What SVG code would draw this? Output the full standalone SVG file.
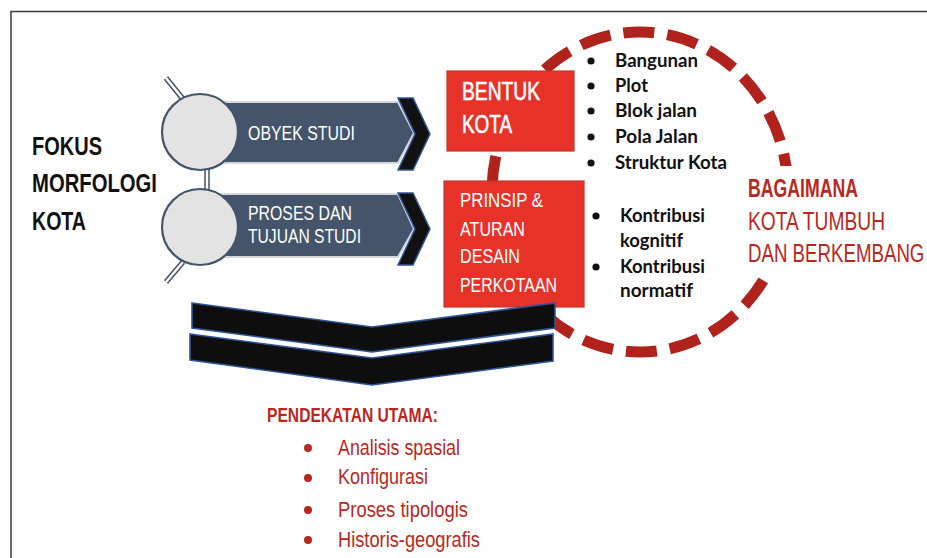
<svg xmlns="http://www.w3.org/2000/svg" width="927" height="558" viewBox="0 0 927 558">
<style>
.frame{fill:none;stroke:#3a3a3a;stroke-width:1.5}
.ring{fill:none;stroke:#b0231c;stroke-width:11;stroke-dasharray:31 13;stroke-dashoffset:-5}
.bar{fill:#44546a;stroke:#d4d6da;stroke-width:2}
.tip{fill:#111;stroke:#2f5597;stroke-width:1.5;stroke-linejoin:miter}
.ball{fill:#e3e3e3;stroke:#44546a;stroke-width:2.2}
.stemO{stroke:#44546a;stroke-width:5.5;fill:none}
.stemI{stroke:#fff;stroke-width:2.5;fill:none}
.box{fill:#e7322a;stroke:#c0392b;stroke-width:1.2}
.chev{fill:#0e0e0e;stroke:#2f5597;stroke-width:1.6;stroke-linejoin:miter}
.cond{font-family:"Liberation Sans",Arial,sans-serif}
.w{fill:#fff;font-size:21px}
.big{font-size:25px}
.thick{stroke:#fff;stroke-width:0.6}
.blk{fill:#111;font-weight:bold}
.li{font-family:Lato,"Liberation Sans",sans-serif;font-weight:bold;font-size:19px;fill:#111}
.red{fill:#b8281f}
.dot{fill:#111}
.rdot{fill:#b8281f}
</style>

<!-- frame -->
<path class="frame" d="M11 558 V11.5 H927"/>

<!-- dashed ring -->
<g id="ring">
  <ellipse class="ring" cx="640" cy="192" rx="148" ry="160"/>
  <rect x="742" y="166" width="185" height="111" fill="#fff"/>
</g>

<!-- connectors -->
<g id="connectors">
  <path class="stemO" d="M166 78 L183 99"/>
  <path class="stemI" d="M166 78 L183 99"/>
  <path class="stemO" d="M207 168 V192"/>
  <path class="stemI" d="M207 168 V192"/>
  <path class="stemO" d="M183 262 L166 282"/>
  <path class="stemI" d="M183 262 L166 282"/>
</g>

<!-- left title -->
<g id="title">
  <text class="cond blk big" x="32" y="155" textLength="70" lengthAdjust="spacingAndGlyphs">FOKUS</text>
  <text class="cond blk big" x="32" y="192" textLength="125" lengthAdjust="spacingAndGlyphs">MORFOLOGI</text>
  <text class="cond blk big" x="32" y="230" textLength="54" lengthAdjust="spacingAndGlyphs">KOTA</text>
</g>

<!-- arrow 1 -->
<g id="obyek">
  <polygon class="bar" points="205,102 398,102 414,133 398,163 205,163"/>
  <polygon class="tip" points="398,98 413,98 430,134 413,170 398,170 415,134"/>
  <circle class="ball" cx="200" cy="132" r="38"/>
  <text class="cond w" x="248" y="140" textLength="107" lengthAdjust="spacingAndGlyphs">OBYEK STUDI</text>
</g>

<!-- arrow 2 -->
<g id="proses">
  <polygon class="bar" points="205,194 398,194 414,229 398,257 205,257"/>
  <polygon class="tip" points="398,193 413,193 430,229 413,265 398,265 415,229"/>
  <circle class="ball" cx="200" cy="227" r="38"/>
  <text class="cond w" x="248" y="220" textLength="104" lengthAdjust="spacingAndGlyphs">PROSES DAN</text>
  <text class="cond w" x="248" y="243" textLength="113" lengthAdjust="spacingAndGlyphs">TUJUAN STUDI</text>
</g>

<!-- bentuk kota -->
<g id="bentuk">
  <rect class="box" x="447" y="71" width="127" height="80"/>
  <text class="cond w big thick" x="462" y="100" textLength="78" lengthAdjust="spacingAndGlyphs">BENTUK</text>
  <text class="cond w big thick" x="462" y="133" textLength="50" lengthAdjust="spacingAndGlyphs">KOTA</text>
</g>

<!-- prinsip -->
<g id="prinsip">
  <rect class="box" x="444" y="181" width="140" height="126"/>
  <text class="cond w" x="460" y="207" textLength="83" lengthAdjust="spacingAndGlyphs">PRINSIP &amp;</text>
  <text class="cond w" x="460" y="236" textLength="65" lengthAdjust="spacingAndGlyphs">ATURAN</text>
  <text class="cond w" x="460" y="263" textLength="60" lengthAdjust="spacingAndGlyphs">DESAIN</text>
  <text class="cond w" x="460" y="292" textLength="97" lengthAdjust="spacingAndGlyphs">PERKOTAAN</text>
</g>

<!-- bentuk list -->
<g id="bentuk-list">
  <circle class="dot" cx="591" cy="61" r="3.6"/>
  <circle class="dot" cx="591" cy="86" r="3.6"/>
  <circle class="dot" cx="591" cy="111" r="3.6"/>
  <circle class="dot" cx="591" cy="137" r="3.6"/>
  <circle class="dot" cx="591" cy="163" r="3.6"/>
  <text class="li" x="615" y="67" textLength="83" lengthAdjust="spacingAndGlyphs">Bangunan</text>
  <text class="li" x="615" y="92" textLength="33" lengthAdjust="spacingAndGlyphs">Plot</text>
  <text class="li" x="615" y="117" textLength="82" lengthAdjust="spacingAndGlyphs">Blok jalan</text>
  <text class="li" x="615" y="143" textLength="83" lengthAdjust="spacingAndGlyphs">Pola Jalan</text>
  <text class="li" x="615" y="169" textLength="112" lengthAdjust="spacingAndGlyphs">Struktur Kota</text>
</g>

<!-- prinsip list -->
<g id="prinsip-list">
  <circle class="dot" cx="596" cy="216" r="3.6"/>
  <circle class="dot" cx="596" cy="267" r="3.6"/>
  <text class="li" x="620" y="222" textLength="85" lengthAdjust="spacingAndGlyphs">Kontribusi</text>
  <text class="li" x="620" y="247" textLength="63" lengthAdjust="spacingAndGlyphs">kognitif</text>
  <text class="li" x="620" y="273" textLength="85" lengthAdjust="spacingAndGlyphs">Kontribusi</text>
  <text class="li" x="620" y="297" textLength="73" lengthAdjust="spacingAndGlyphs">normatif</text>
</g>

<!-- bagaimana -->
<g id="bagaimana">
  <text class="cond red" transform="translate(748 197) scale(0.68 1)" x="0" y="0" font-size="26" font-weight="bold" textLength="161.7" lengthAdjust="spacingAndGlyphs">BAGAIMANA</text>
  <text class="cond red" transform="translate(748 230) scale(0.725 1)" x="0" y="0" font-size="26" textLength="189" lengthAdjust="spacingAndGlyphs">KOTA TUMBUH</text>
  <text class="cond red" transform="translate(748 262) scale(0.72 1)" x="0" y="0" font-size="26" textLength="245" lengthAdjust="spacingAndGlyphs">DAN BERKEMBANG</text>
</g>

<!-- chevrons -->
<g id="chevrons">
  <polygon class="chev" points="192,303 372,327 555,303 555,328 372,352 192,328"/>
  <polygon class="chev" points="190,334 372,358 553,334 553,361 372,385 190,360"/>
</g>

<!-- pendekatan -->
<g id="pendekatan">
  <text class="cond red" x="267" y="422" font-size="20" font-weight="bold" textLength="171" lengthAdjust="spacingAndGlyphs">PENDEKATAN UTAMA:</text>
  <circle class="rdot" cx="308" cy="448" r="4"/>
  <circle class="rdot" cx="308" cy="478" r="4"/>
  <circle class="rdot" cx="308" cy="510" r="4"/>
  <circle class="rdot" cx="308" cy="540" r="4"/>
  <text class="cond red" x="338" y="455" font-size="22" textLength="122" lengthAdjust="spacingAndGlyphs">Analisis spasial</text>
  <text class="cond red" x="338" y="484" font-size="22" textLength="90" lengthAdjust="spacingAndGlyphs">Konfigurasi</text>
  <text class="cond red" x="338" y="517" font-size="22" textLength="130" lengthAdjust="spacingAndGlyphs">Proses tipologis</text>
  <text class="cond red" x="338" y="547" font-size="22" textLength="142" lengthAdjust="spacingAndGlyphs">Historis-geografis</text>
</g>
</svg>
